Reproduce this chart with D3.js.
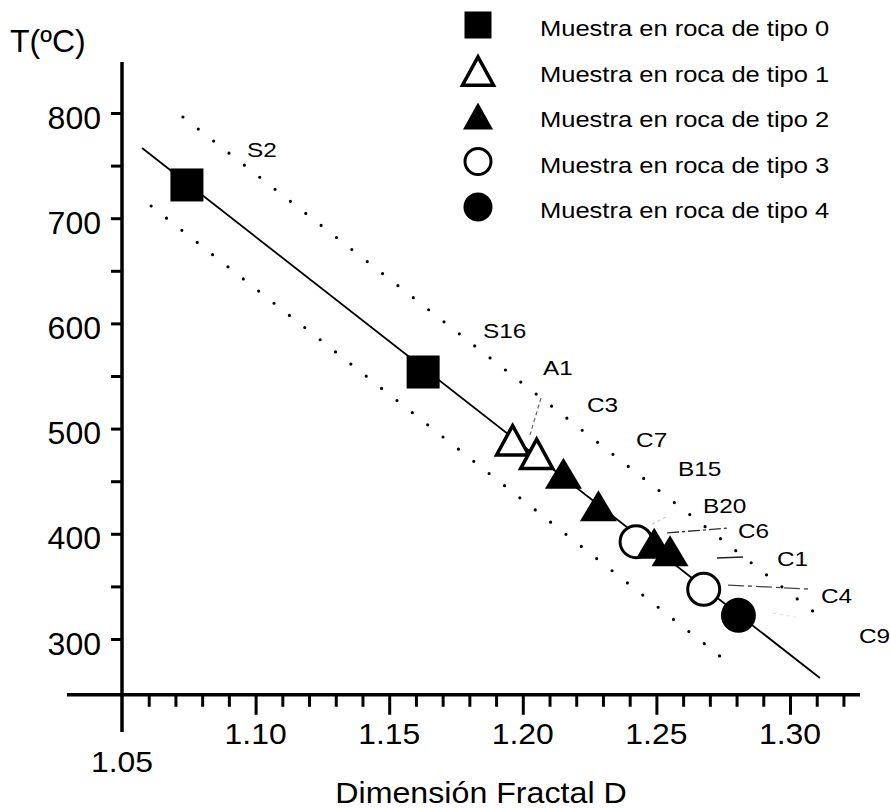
<!DOCTYPE html>
<html>
<head>
<meta charset="utf-8">
<script src="https://cdn.jsdelivr.net/npm/d3@7/dist/d3.min.js"></script>
<style>
body { margin: 0; background: #fff; }
text { font-family: "Liberation Sans", Arial, Helvetica, sans-serif; fill: #000; }
</style>
</head>
<body>
<div id="chart"></div>
<script>
// samples: name, fractal dimension D, temperature, rock type
var sampleName = ["S2", "S16", "A1", "C3", "C7", "B15", "B20", "C6", "C1", "C4", "C9"];
var sampleD = [1.0743, 1.1627, 1.1962, 1.2052, 1.2152, 1.2283, 1.2424, 1.2492, 1.2551, 1.2677, 1.2807];
var sampleT = [731.6, 553.8, 489.4, 476.5, 457.5, 426.6, 392.5, 391.0, 383.8, 347.2, 322.5];
var sampleType = [0, 0, 1, 1, 2, 2, 3, 2, 2, 3, 4];

// where each sample name is written (left edge, baseline) in data units
var labelD = [1.0968, 1.1851, 1.2076, 1.2240, 1.2424, 1.2581, 1.2674, 1.2805, 1.2951, 1.3116, 1.3258];
var labelT = [758, 586, 551, 515.8, 482.5, 455, 419.8, 396, 369.4, 334.2, 296.2];

// thin leader lines from a few names to their marker
var leaderName = ["A1", "B20", "C6", "C1", "C4", "C9"];
var leaderD1 = [1.2068, 1.2484, 1.2540, 1.2727, 1.2768, 1.2936];
var leaderT1 = [529.1, 409.3, 400.8, 377.0, 351.3, 324.7];
var leaderD2 = [1.2027, 1.2543, 1.2768, 1.2824, 1.3071, 1.3037];
var leaderT2 = [493.9, 416.9, 405.5, 378.0, 347.5, 320.0];

// fitted line and the two dotted band limits (start / end points)
var fitD = [1.0575, 1.3112];
var fitT = [766.7, 262.9];
var upperD = [1.0728, 1.3142];
var upperT = [796.2, 315.2];
var lowerD = [1.0609, 1.2794];
var lowerT = [711.6, 272.4];

// axis ticks
var xMajor = [1.10, 1.15, 1.20, 1.25, 1.30];
var xMinor = [1.06, 1.07, 1.08, 1.09, 1.11, 1.12, 1.13, 1.14, 1.16, 1.17, 1.18, 1.19,
              1.21, 1.22, 1.23, 1.24, 1.26, 1.27, 1.28, 1.29, 1.31, 1.32];
var xTickLabels = ["1.10", "1.15", "1.20", "1.25", "1.30"];
var yTicks = [300, 350, 400, 450, 500, 550, 600, 650, 700, 750, 800];
var yTickLabels = ["300", "400", "500", "600", "700", "800"];

var legendLabels = ["Muestra en roca de tipo 0", "Muestra en roca de tipo 1",
                    "Muestra en roca de tipo 2", "Muestra en roca de tipo 3",
                    "Muestra en roca de tipo 4"];

var svgWidth = 890;
var svgHeight = 808;

var svg = d3.select("#chart")
    .append("svg")
    .attr("width", svgWidth)
    .attr("height", svgHeight);

var x = d3.scaleLinear().domain([1.05, 1.30]).range([122, 790]);
var y = d3.scaleLinear().domain([300, 800]).range([639, 113]);

// axes cross at D = 1.05 and T = 247
var xAxisT = 247;
var xAxisY = y(xAxisT);

// the text in the figure is a bit wider than Arial
function stretchText(g, px, py, str, size, sx, anchor) {
    return g.append("text")
        .attr("transform", `translate(${px}, ${py}) scale(${sx}, 1)`)
        .attr("text-anchor", anchor || "start")
        .style("font-size", size + "px")
        .text(str);
}

// ---- x axis ----
var xMinorAxis = d3.axisBottom(x).tickValues(xMinor).tickSize(12).tickFormat("");
var xMajorAxis = d3.axisBottom(x).tickValues(xMajor).tickSize(20).tickFormat("");

svg.append("g")
    .attr("transform", `translate(0, ${xAxisY})`)
    .call(xMinorAxis)
    .call(g => g.select(".domain").remove())
    .selectAll("line").attr("stroke", "#000").attr("stroke-width", 3);

svg.append("g")
    .attr("transform", `translate(0, ${xAxisY})`)
    .call(xMajorAxis)
    .call(g => g.select(".domain").remove())
    .selectAll("line").attr("stroke", "#000").attr("stroke-width", 3);

svg.append("line")
    .attr("x1", x(1.0294)).attr("x2", x(1.3262))
    .attr("y1", xAxisY).attr("y2", xAxisY)
    .attr("stroke", "#000").attr("stroke-width", 3.5);

var xLabels = svg.append("g");
xMajor.forEach(function (v, i) {
    stretchText(xLabels, x(v), xAxisY + 49, xTickLabels[i], 29, 1.1, "middle");
});
stretchText(xLabels, x(1.05), xAxisY + 77, "1.05", 29, 1.1, "middle");
stretchText(svg, (x(1.05) + x(1.30)) / 2 + 25, 803, "Dimensión Fractal D", 29, 1.11, "middle");

// ---- y axis ----
var yAxis = d3.axisLeft(y)
    .tickValues(yTicks)
    .tickSize(11)
    .tickPadding(10)
    .tickFormat(d => yTickLabels.indexOf(String(d)) >= 0 ? d : "");

var yAxisG = svg.append("g")
    .attr("transform", `translate(${x(1.05)}, 0)`)
    .call(yAxis)
    .call(g => g.select(".domain").remove());
yAxisG.selectAll("line").attr("stroke", "#000").attr("stroke-width", 3);
yAxisG.selectAll("text")
    .attr("dy", "0.47em")
    .style("font-size", "32px")
    .style("font-family", "\"Liberation Sans\", Arial, sans-serif");

svg.append("line")
    .attr("x1", x(1.05)).attr("x2", x(1.05))
    .attr("y1", y(848.5)).attr("y2", y(211.6))
    .attr("stroke", "#000").attr("stroke-width", 3.5);

svg.append("text")
    .attr("x", 10)
    .attr("y", 52)
    .style("font-size", "32px")
    .text("T(ºC)");

// ---- dotted bands ----
function dottedLine(d, t) {
    var x1 = x(d[0]), y1 = y(t[0]), x2 = x(d[1]), y2 = y(t[1]);
    var len = Math.hypot(x2 - x1, y2 - y1);
    var gap = len / Math.round(len / 19.6);
    svg.append("line")
        .attr("x1", x1).attr("y1", y1).attr("x2", x2).attr("y2", y2)
        .attr("stroke", "#000")
        .attr("stroke-width", 3.2)
        .attr("stroke-linecap", "round")
        .attr("stroke-dasharray", `0 ${gap}`);
}
dottedLine(upperD, upperT);
dottedLine(lowerD, lowerT);

// ---- fitted line ----
svg.append("line")
    .attr("x1", x(fitD[0])).attr("y1", y(fitT[0]))
    .attr("x2", x(fitD[1])).attr("y2", y(fitT[1]))
    .attr("stroke", "#000")
    .attr("stroke-width", 1.8);

// ---- leader lines ----
var leaderStyle = {
    "A1": ["#666", 1.2, "4 3"],
    "B20": ["#bbb", 1, "3 3"],
    "C6": ["#333", 1.3, "12 3 3 3"],
    "C1": ["#222", 1.5, null],
    "C4": ["#444", 1.3, "16 4 4 4"],
    "C9": ["#ddd", 1, "3 4"]
};
leaderName.forEach(function (n, i) {
    var st = leaderStyle[n];
    svg.append("line")
        .attr("x1", x(leaderD1[i])).attr("y1", y(leaderT1[i]))
        .attr("x2", x(leaderD2[i])).attr("y2", y(leaderT2[i]))
        .attr("stroke", st[0])
        .attr("stroke-width", st[1])
        .attr("stroke-dasharray", st[2]);
});

// ---- markers ----
function drawSymbol(g, type, cx, cy, s) {
    // s = size set: square side, triangle w/h, circle radius
    if (type === 0) {
        g.append("rect")
            .attr("x", cx - s.sq / 2).attr("y", cy - s.sq / 2)
            .attr("width", s.sq).attr("height", s.sq)
            .attr("fill", "#000");
    } else if (type === 1 || type === 2) {
        var w = type === 1 ? s.triW : s.ftriW;
        var h = type === 1 ? s.triH : s.ftriH;
        var inset = type === 1 ? 1.75 : 0;
        var pts = [[cx, cy - h / 2 + inset * 1.6], [cx - w / 2 + inset * 1.4, cy + h / 2 - inset],
                   [cx + w / 2 - inset * 1.4, cy + h / 2 - inset]];
        g.append("polygon")
            .attr("points", pts.map(p => p.join(",")).join(" "))
            .attr("fill", type === 1 ? "#fff" : "#000")
            .attr("stroke", "#000")
            .attr("stroke-width", type === 1 ? 3.5 : 0)
            .attr("stroke-linejoin", "miter");
    } else if (type === 3) {
        g.append("circle")
            .attr("cx", cx).attr("cy", cy).attr("r", s.r - 1.5)
            .attr("fill", "#fff").attr("stroke", "#000").attr("stroke-width", 3);
    } else {
        g.append("circle")
            .attr("cx", cx).attr("cy", cy).attr("r", s.r)
            .attr("fill", "#000");
    }
}

var plotSize = { sq: 33, triW: 37, triH: 34, ftriW: 37, ftriH: 31, r: 17.5 };
var legendSize = { sq: 27, triW: 36, triH: 33, ftriW: 30, ftriH: 27, r: 14.5 };

var markers = svg.append("g");
sampleD.forEach(function (d, i) {
    drawSymbol(markers, sampleType[i], x(d), y(sampleT[i]), plotSize);
});

// ---- sample names ----
var names = svg.append("g");
sampleName.forEach(function (n, i) {
    stretchText(names, x(labelD[i]), y(labelT[i]), n, 21, 1.16);
});

// ---- legend ----
var legend = svg.append("g");
legendLabels.forEach(function (lab, i) {
    var cy = 25 + i * 45.5;
    drawSymbol(legend, i, 478, cy, legendSize);
    stretchText(legend, 540, cy + 11, lab, 22, 1.16);
});
</script>
</body>
</html>
